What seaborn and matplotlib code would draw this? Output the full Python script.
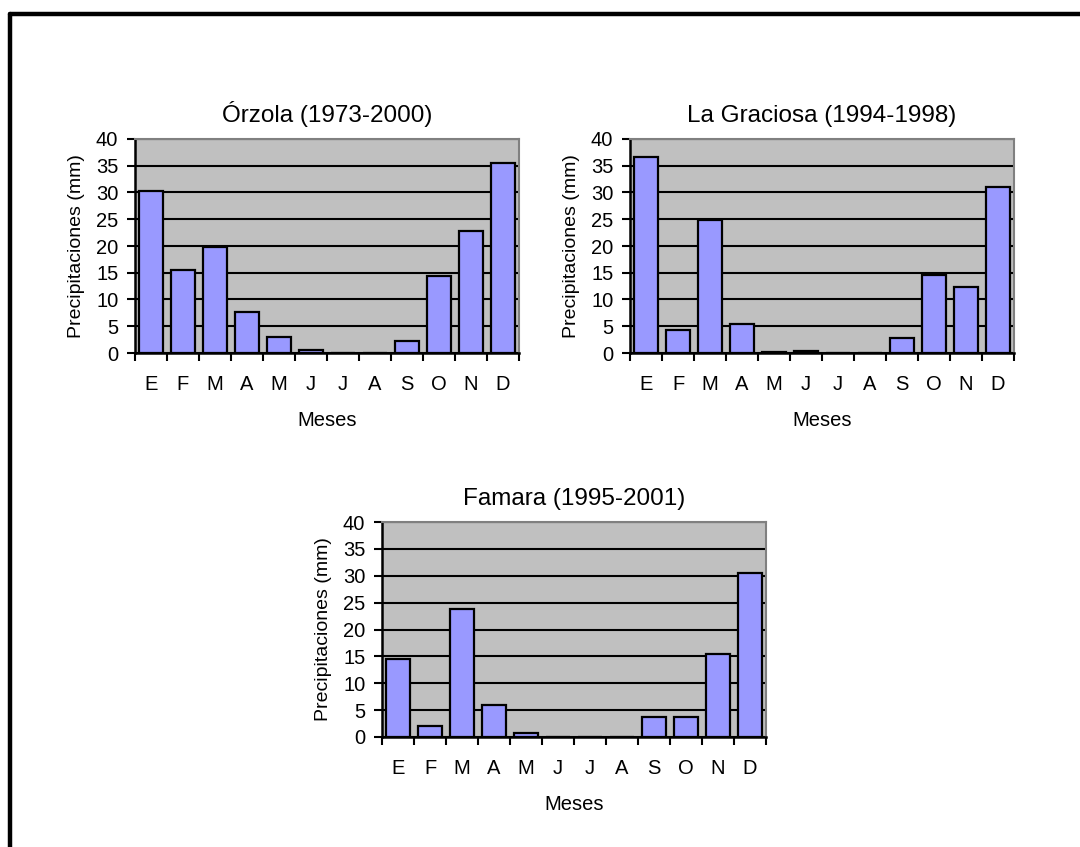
import matplotlib
matplotlib.use("Agg")
import matplotlib.pyplot as plt
import seaborn as sns
import pandas as pd
from matplotlib.lines import Line2D

# Data
meses = ["Ene", "Feb", "Mar", "Abr", "May", "Jun", "Jul", "Ago", "Sep", "Oct", "Nov", "Dic"]
etiquetas = ["E", "F", "M", "A", "M", "J", "J", "A", "S", "O", "N", "D"]
orzola = [30.3, 15.5, 19.9, 7.6, 3.0, 0.6, 0, 0, 2.2, 14.4, 22.8, 35.6]
graciosa = [36.6, 4.3, 24.8, 5.4, 0.1, 0.3, 0, 0, 2.8, 14.6, 12.3, 31.1]
famara = [14.6, 2.0, 23.8, 5.9, 0.7, 0, 0, 0, 3.8, 3.7, 15.4, 30.6]
titulos = ["Órzola (1973-2000)", "La Graciosa (1994-1998)", "Famara (1995-2001)"]
yticks = [0, 5, 10, 15, 20, 25, 30, 35, 40]

sns.set_theme(style="white")
plt.rcParams['font.family'] = ['Liberation Sans', 'DejaVu Sans']
plt.rcParams['text.color'] = 'black'
plt.rcParams['axes.labelcolor'] = 'black'
plt.rcParams['xtick.color'] = 'black'
plt.rcParams['ytick.color'] = 'black'

W, H = 1080, 847
fig = plt.figure(figsize=(W / 100, H / 100), dpi=100)

# axes boxes in pixels: left, top, right, bottom
boxes = [(135, 139, 519, 353), (630, 139, 1014, 353), (382, 522, 766, 737)]
series = [orzola, graciosa, famara]


def draw(box, valores, titulo):
    l, t, r, b = box
    ax = fig.add_axes([l / W, 1 - b / H, (r - l) / W, (b - t) / H])
    df = pd.DataFrame({"mes": meses, "mm": valores})
    sns.barplot(data=df, x="mes", y="mm", order=meses, color="#9999FF",
                saturation=1, width=0.72, edgecolor="black", linewidth=1.6,
                ax=ax, zorder=3)
    ax.set_facecolor("#C0C0C0")
    ax.set_xlim(-0.5, 11.5)
    ax.set_ylim(0, 40)
    ax.set_yticks(yticks)
    ax.set_yticklabels([str(v) for v in yticks], fontsize=14.5)
    ax.yaxis.grid(True, color="black", linewidth=1.5, zorder=1)
    ax.set_axisbelow(True)
    ax.set_xticks(range(12))
    ax.set_xticklabels(etiquetas, fontsize=14.5)
    ax.tick_params(axis="x", which="major", length=0, pad=16)
    ax.set_xticks([i - 0.5 for i in range(13)], minor=True)
    ax.tick_params(axis="x", which="minor", length=6, width=1.5, color="black",
                   direction="out", bottom=True)
    ax.tick_params(axis="y", length=6, width=1.5, color="black",
                   direction="out", left=True, pad=6)
    for s in ["left", "bottom"]:
        ax.spines[s].set_color("black")
        ax.spines[s].set_linewidth(1.8)
    for s in ["top", "right"]:
        ax.spines[s].set_color("#808080")
        ax.spines[s].set_linewidth(1.5)
    ax.set_title(titulo, fontsize=17.5, pad=12)
    ax.set_xlabel("Meses", fontsize=14.5, labelpad=12)
    ax.set_ylabel("Precipitaciones (mm)", fontsize=14, labelpad=8)
    return ax


for box, vals, tit in zip(boxes, series, titulos):
    draw(box, vals, tit)

# outer frame (only top and left visible)
fig.add_artist(Line2D([10 / W, 1.0], [1 - 14 / H, 1 - 14 / H], color="black",
                      linewidth=3.2, transform=fig.transFigure))
fig.add_artist(Line2D([10 / W, 10 / W], [0.0, 1 - 14 / H], color="black",
                      linewidth=3.2, transform=fig.transFigure))

fig.savefig("out.png", dpi=100, facecolor="white")
